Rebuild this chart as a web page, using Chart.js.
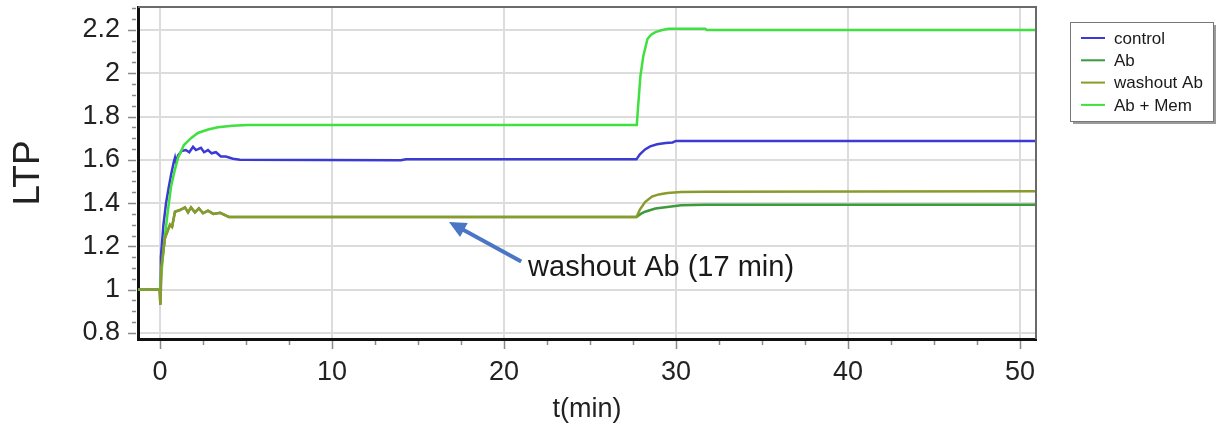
<!DOCTYPE html>
<html>
<head>
<meta charset="utf-8">
<script src="https://cdn.jsdelivr.net/npm/chart.js@4.4.1/dist/chart.umd.min.js"></script>
<style>
  html, body { margin: 0; padding: 0; background: #fff; }
  #wrap { position: relative; width: 1226px; height: 433px; }
</style>
</head>
<body>
<div id="wrap"><canvas id="chart"></canvas></div>
<script>
// Data (t in minutes, LTP relative)
const X_TICKS = [0, 10, 20, 30, 40, 50];
const Y_TICKS = [0.8, 1, 1.2, 1.4, 1.6, 1.8, 2, 2.2];

const T_CONTROL = [-1.3, 0, 0.05, 0.2, 0.35, 0.5, 0.64, 0.8, 0.87, 0.92, 1.05, 1.25, 1.5, 1.7, 1.92,
  2.09, 2.38, 2.56, 2.79, 3.0, 3.25, 3.54, 3.83, 4.24, 4.65, 14, 14.3, 27.7, 27.9, 28.2, 28.5,
  28.9, 29.4, 29.8, 30.0, 51];
const V_CONTROL = [1, 1, 1.15, 1.3, 1.4, 1.47, 1.53, 1.59, 1.61, 1.59, 1.62, 1.64, 1.645, 1.635, 1.66,
  1.645, 1.655, 1.635, 1.645, 1.63, 1.635, 1.615, 1.615, 1.605, 1.6, 1.598, 1.602, 1.602, 1.625, 1.648, 1.662,
  1.672, 1.678, 1.68, 1.687, 1.687];

const T_AB = [-1.3, -0.02, 0.02, 0.07, 0.29, 0.58, 0.7, 0.87, 1.16, 1.45, 1.63, 1.8, 2.03, 2.26,
  2.5, 2.79, 3.1, 3.5, 3.9, 4.0, 27.7, 27.95, 28.2, 28.8, 29.5, 30.3, 31.7, 51];
const V_AB = [1, 1, 0.93, 1.1, 1.24, 1.3, 1.29, 1.36, 1.368, 1.38, 1.357, 1.38, 1.357, 1.376,
  1.353, 1.365, 1.35, 1.355, 1.34, 1.336, 1.336, 1.35, 1.36, 1.375, 1.382, 1.39, 1.392, 1.392];

const T_WASHOUT = [-1.3, -0.02, 0.02, 0.07, 0.29, 0.58, 0.7, 0.87, 1.16, 1.45, 1.63, 1.8, 2.03, 2.26,
  2.5, 2.79, 3.1, 3.5, 3.9, 4.0, 27.7, 27.9, 28.2, 28.6, 29.0, 29.5, 30.3, 31.7, 51];
const V_WASHOUT = [1, 1, 0.93, 1.1, 1.24, 1.3, 1.29, 1.36, 1.368, 1.38, 1.357, 1.38, 1.357, 1.376,
  1.353, 1.365, 1.35, 1.355, 1.34, 1.336, 1.336, 1.37, 1.405, 1.43, 1.44, 1.447, 1.451, 1.452, 1.455];

const T_MEM = [-1.3, 0, 0.23, 0.45, 0.64, 0.85, 1.05, 1.39, 1.8, 2.2, 2.8, 3.37, 4.2, 5.1,
  27.72, 27.8, 27.93, 28.1, 28.34, 28.55, 28.8, 29.2, 29.56, 31.7, 31.8, 51];
const V_MEM = [1, 1, 1.21, 1.36, 1.475, 1.55, 1.61, 1.668, 1.7, 1.724, 1.74, 1.75, 1.757, 1.761,
  1.761, 1.85, 1.986, 2.08, 2.158, 2.178, 2.19, 2.2, 2.205, 2.205, 2.2, 2.2];

const ANNOTATION_TEXT = 'washout Ab (17 min)';
const ARROW_FROM = [21.0, 1.13];
const ARROW_TO = [16.8, 1.313];
const LABEL_AT = [21.4, 1.10];

const FONT = "'Liberation Sans', Arial, sans-serif";
Chart.defaults.font.family = FONT;
Chart.defaults.color = '#222';

const pts = (ts, vs) => ts.map((t, i) => ({ x: t, y: vs[i] }));

function line(label, ts, vs, color, order) {
  return {
    label,
    data: pts(ts, vs),
    borderColor: color,
    backgroundColor: color,
    borderWidth: 2.5,
    pointRadius: 0,
    tension: 0,
    order,
  };
}

// minor/major tick marks, top/right frame, annotation arrow, boxed legend
const decorPlugin = {
  id: 'decor',
  afterDraw(chart) {
    const { ctx, chartArea: a, scales: { x, y } } = chart;
    ctx.save();

    // frame top/right
    ctx.strokeStyle = '#6a6a6a';
    ctx.lineWidth = 2;
    ctx.beginPath();
    ctx.moveTo(a.left, a.top);
    ctx.lineTo(a.right, a.top);
    ctx.lineTo(a.right, a.bottom);
    ctx.stroke();

    // tick marks
    ctx.strokeStyle = '#8a8a8a';
    ctx.lineWidth = 1.5;
    ctx.beginPath();
    for (let v = 0.8; v <= 2.3001; v += 0.05) {
      const py = Math.round(y.getPixelForValue(v)) + 0.5;
      const major = Math.abs(v * 5 - Math.round(v * 5)) < 1e-6;
      ctx.moveTo(a.left - 2, py);
      ctx.lineTo(a.left - (major ? 10 : 6), py);
    }
    for (let t = 0; t <= 50.001; t += 2.5) {
      const px = Math.round(x.getPixelForValue(t)) + 0.5;
      const major = t % 10 === 0;
      ctx.moveTo(px, a.bottom + 2);
      ctx.lineTo(px, a.bottom + (major ? 10 : 6));
    }
    ctx.stroke();

    // annotation arrow
    const x0 = x.getPixelForValue(ARROW_FROM[0]), y0 = y.getPixelForValue(ARROW_FROM[1]);
    const x1 = x.getPixelForValue(ARROW_TO[0]), y1 = y.getPixelForValue(ARROW_TO[1]);
    const ang = Math.atan2(y1 - y0, x1 - x0);
    const head = 17;
    ctx.strokeStyle = '#4a76c6';
    ctx.fillStyle = '#4a76c6';
    ctx.lineWidth = 4;
    ctx.beginPath();
    ctx.moveTo(x0, y0);
    ctx.lineTo(x1 - Math.cos(ang) * head * 0.8, y1 - Math.sin(ang) * head * 0.8);
    ctx.stroke();
    ctx.beginPath();
    ctx.moveTo(x1, y1);
    ctx.lineTo(x1 - head * Math.cos(ang) + 8 * Math.sin(ang), y1 - head * Math.sin(ang) - 8 * Math.cos(ang));
    ctx.lineTo(x1 - head * Math.cos(ang) - 8 * Math.sin(ang), y1 - head * Math.sin(ang) + 8 * Math.cos(ang));
    ctx.closePath();
    ctx.fill();

    ctx.fillStyle = '#1a1a1a';
    ctx.font = `29px ${FONT}`;
    ctx.textAlign = 'left';
    ctx.textBaseline = 'middle';
    ctx.fillText(ANNOTATION_TEXT, x.getPixelForValue(LABEL_AT[0]), y.getPixelForValue(LABEL_AT[1]));

    // legend box
    const lx = 1070, ly = 22, lw = 143, lh = 99;
    ctx.fillStyle = '#9a9a9a';
    ctx.fillRect(lx + 3, ly + 3, lw, lh);
    ctx.fillStyle = '#fff';
    ctx.fillRect(lx, ly, lw, lh);
    ctx.strokeStyle = '#777';
    ctx.lineWidth = 1;
    ctx.strokeRect(lx + 0.5, ly + 0.5, lw, lh);
    ctx.font = `17px ${FONT}`;
    chart.data.datasets.forEach((ds, i) => {
      const ry = ly + 16 + i * 22.3;
      ctx.strokeStyle = ds.borderColor;
      ctx.lineWidth = 2;
      ctx.beginPath();
      ctx.moveTo(lx + 11, ry);
      ctx.lineTo(lx + 35, ry);
      ctx.stroke();
      ctx.fillStyle = '#1a1a1a';
      ctx.fillText(ds.label, lx + 44, ry + 1);
    });

    ctx.restore();
  },
};

new Chart(document.getElementById('chart'), {
  type: 'line',
  data: {
    datasets: [
      line('control', T_CONTROL, V_CONTROL, '#3b3bd4', 2),
      line('Ab', T_AB, V_AB, '#3d9a3d', 3),
      line('washout Ab', T_WASHOUT, V_WASHOUT, '#8a9a2c', 0),
      line('Ab + Mem', T_MEM, V_MEM, '#3fe03f', 1),
    ],
  },
  plugins: [decorPlugin],
  options: {
    responsive: true,
    maintainAspectRatio: false,
    animation: false,
    events: [],
    layout: { padding: { top: 7, right: 190, left: 0, bottom: 0 } },
    plugins: {
      legend: { display: false },
      tooltip: { enabled: false },
    },
    scales: {
      x: {
        type: 'linear',
        min: -1.28,
        max: 50.93,
        afterBuildTicks: (s) => { s.ticks = X_TICKS.map(v => ({ value: v })); },
        afterFit: (s) => { s.height = 94; s.paddingLeft = 0; s.paddingRight = 0; },
        grid: { color: '#dcdcdc', lineWidth: 2, drawTicks: false },
        border: { color: '#111', width: 3 },
        ticks: { font: { size: 27 }, padding: 17, maxRotation: 0, autoSkip: false },
        title: { display: true, text: 't(min)', font: { size: 27 }, padding: 7 },
      },
      y: {
        min: 0.772,
        max: 2.306,
        afterBuildTicks: (s) => { s.ticks = Y_TICKS.map(v => ({ value: v })); },
        afterFit: (s) => { s.width = 138; s.paddingTop = 0; s.paddingBottom = 0; },
        grid: { color: '#dcdcdc', lineWidth: 2, drawTicks: false },
        border: { color: '#111', width: 3 },
        ticks: {
          font: { size: 27 },
          padding: 18,
          autoSkip: false,
          callback: (v) => String(+Number(v).toFixed(2)),
        },
        title: { display: true, text: 'LTP', font: { size: 37 }, padding: 7 },
      },
    },
  },
});
</script>
</body>
</html>
